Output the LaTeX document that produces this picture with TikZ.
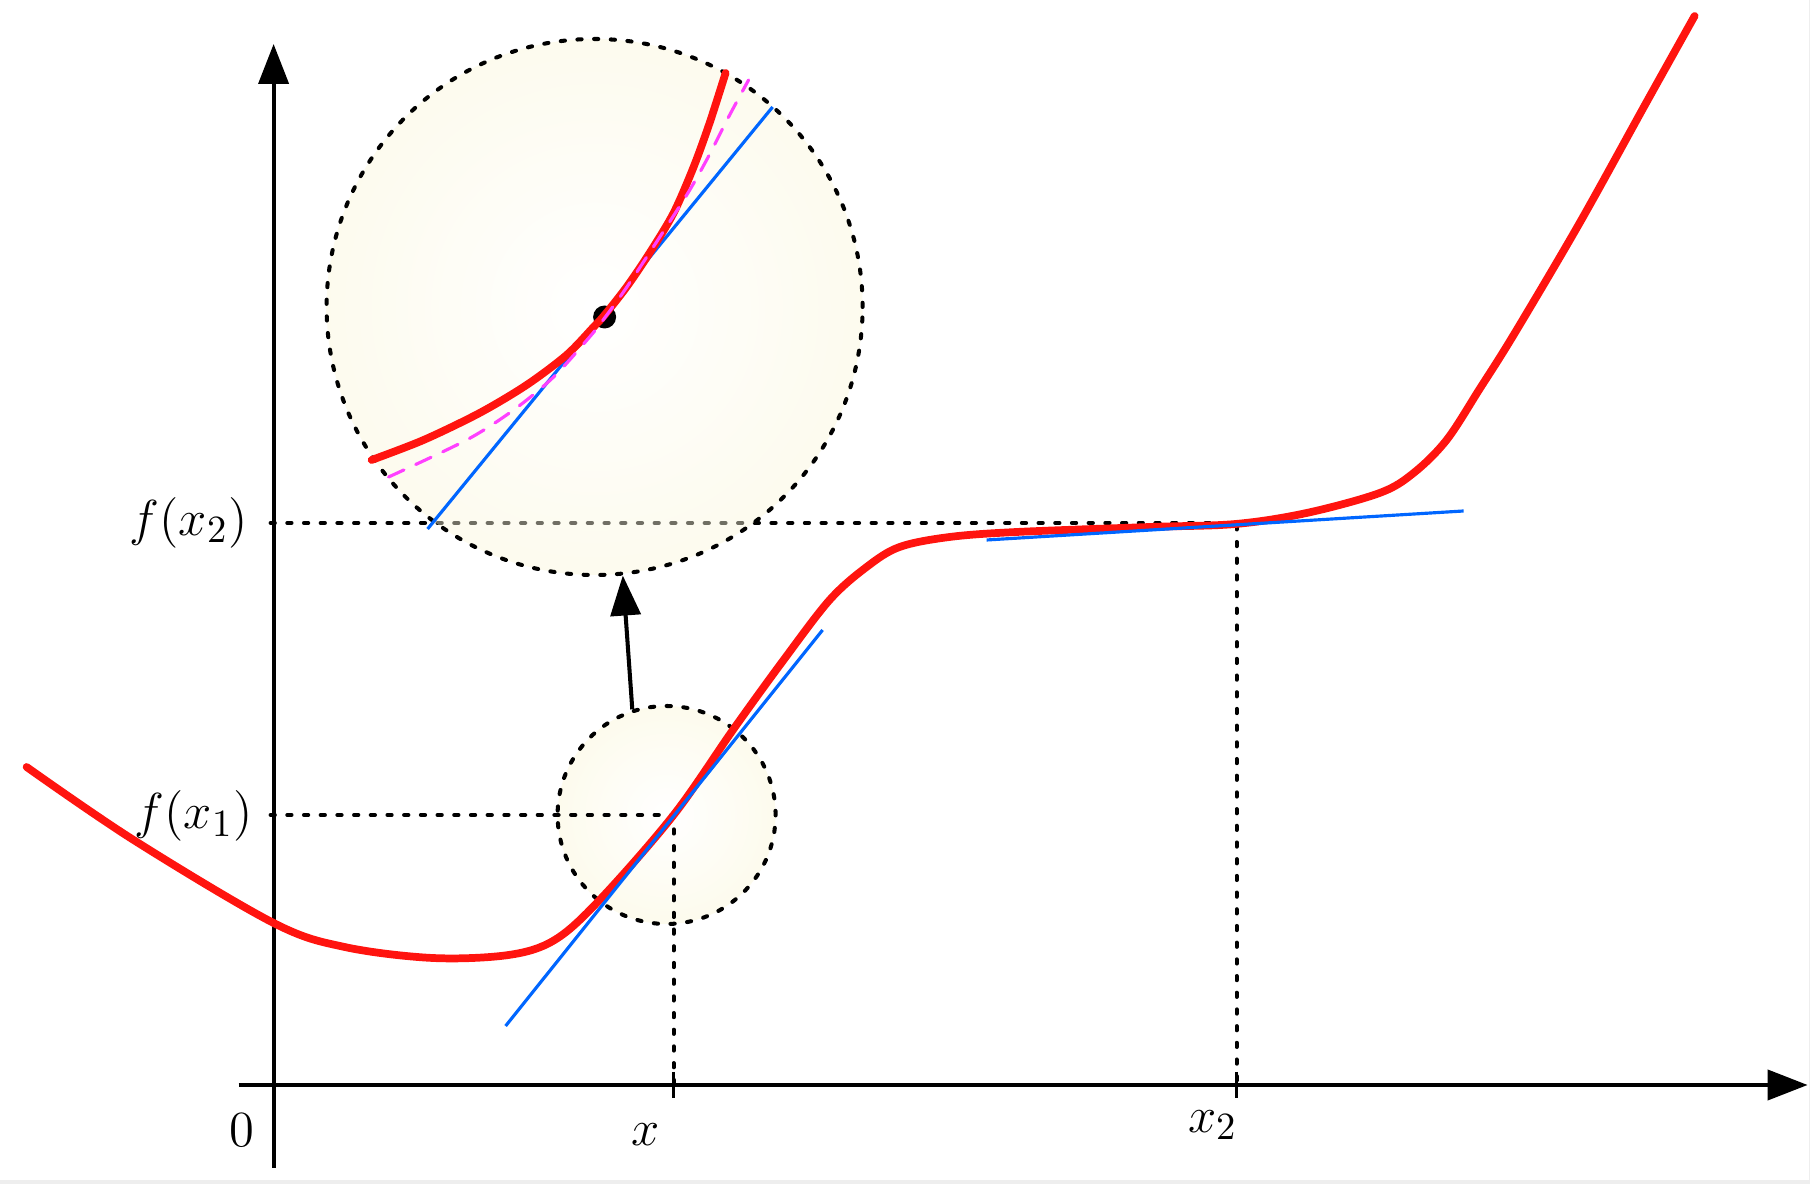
\documentclass[tikz,border=0pt]{standalone}
\usepackage{amsmath, amssymb}
\usepackage{tikz}
\usetikzlibrary{arrows.meta, calc}

\definecolor{curvered}{RGB}{255,20,15}
\definecolor{tanblue}{RGB}{0,102,255}
\definecolor{osculmag}{RGB}{255,64,255}
\definecolor{lenscream}{RGB}{253,251,237}
\definecolor{bigcream}{RGB}{250,246,218}
\definecolor{framegray}{RGB}{238,238,238}

\begin{document}
\begin{tikzpicture}[>={Triangle[length=4mm, width=3mm]}, font=\fontsize{15}{18}\selectfont,
    axis/.style={line width=1.15pt},
    guide/.style={line width=1.15pt, dash pattern=on 1.2pt off 3.55pt, line cap=round},
    lens/.style={circle, inner sep=0pt, draw, guide, inner color=white},
    graph/.style={curvered, line width=2.2pt, line cap=round},
    tangent/.style={tanblue, line width=0.9pt},
    approx/.style={osculmag, line width=0.9pt, dash pattern=on 4.8pt off 3.7pt, line cap=round},
    dotmark/.style={circle, fill, inner sep=0pt, minimum size=2.3mm}]
    \useasboundingbox (-2.736,-0.99) rectangle (15.364,10.85);
    \fill[framegray] (-2.736,-0.99) rectangle (15.364,-0.95);
    \fill[framegray] (15.35,-0.99) rectangle (15.364,10.85);

    \coordinate (O) at (0,0);
    \coordinate (P1) at (4.0,2.70);
    \coordinate (P2) at (9.63,5.62);

    % small lens round the point x
    \node[lens, outer color=lenscream, minimum size=2.18cm] (zoomS) at (3.93,2.70) {};

    % guide lines to the axes
    \draw[guide] ($(O |- P1)+(-0.03,0)$) -- (P1) -- (P1 |- O);
    \draw[guide] ($(O |- P2)+(-0.03,0)$) -- (P2) -- (P2 |- O);

    % axes
    \draw[axis, ->] (-0.35,0) -- (15.34,0);
    \draw[axis, ->] (0,-0.83) -- (0,10.41);
    \draw[line width=0.75pt] (P1 |- O) ++(0,0.13) -- ++(0,-0.26);
    \draw[line width=0.75pt] (P2 |- O) ++(0,0.13) -- ++(0,-0.26);

    % big lens, magnified view
    \node[lens, outer color=bigcream, fill opacity=0.45, minimum size=5.36cm] (zoomB) at (3.21,7.78) {};

    % the graph and its tangents
    \draw[graph] plot[smooth, tension=0.55] coordinates {(-2.47,3.18) (-1.40,2.45) (0,1.62) (0.71,1.38)
        (1.59,1.27) (2.35,1.30) (2.81,1.45) (3.26,1.85) (4.0,2.70) (4.60,3.56) (5.10,4.25)
        (5.56,4.85) (5.93,5.18) (6.26,5.38) (6.76,5.48) (7.43,5.53) (8.76,5.58) (9.62,5.61)
        (10.33,5.72) (11.06,5.92) (11.40,6.12) (11.73,6.45) (12.06,6.96) (12.40,7.50)
        (13.06,8.62) (13.73,9.83) (14.21,10.69)};
    \coordinate (T1a) at (2.32,0.59);
    \coordinate (T1b) at (5.49,4.55);
    \coordinate (T2a) at (7.13,5.45);
    \coordinate (T2b) at (11.90,5.74);
    \draw[tangent] (T1a) -- (T1b);
    \draw[tangent] (T2a) -- (T2b);

    % inside the big lens
    \coordinate (B1) at (1.54,5.56);
    \coordinate (B2) at (4.99,9.78);
    \draw[tangent] (B1) -- (B2);
    \node[dotmark] (pt) at (3.31,7.68) {};
    \draw[graph] plot[smooth] coordinates {(0.98,6.25) (1.50,6.45) (2.06,6.72) (2.53,7.00)
        (2.93,7.30) (3.20,7.58) (3.31,7.70) (3.53,7.98) (3.76,8.32) (4.00,8.72) (4.20,9.18)
        (4.36,9.62) (4.52,10.12)};
    \draw[approx] plot[smooth] coordinates {(1.15,6.08) (1.93,6.45) (2.40,6.75) (2.80,7.08)
        (3.16,7.48) (3.31,7.67) (3.56,8.02) (4.10,8.85) (4.33,9.25) (4.55,9.68) (4.75,10.05)};

    \draw[axis, ->] (zoomS.108) -- (zoomB.276);

    % labels
    \node (lblO) at (-0.32,-0.45) {$0$};
    \node (lblx) at (3.72,-0.50) {$x$};
    \node (lblxb) at (9.39,-0.40) {$x_2$};
    \node (lblfa) at (-0.80,2.69) {$f(x_1)$};
    \node (lblfb) at (-0.85,5.625) {$f(x_2)$};
\end{tikzpicture}
\end{document}
